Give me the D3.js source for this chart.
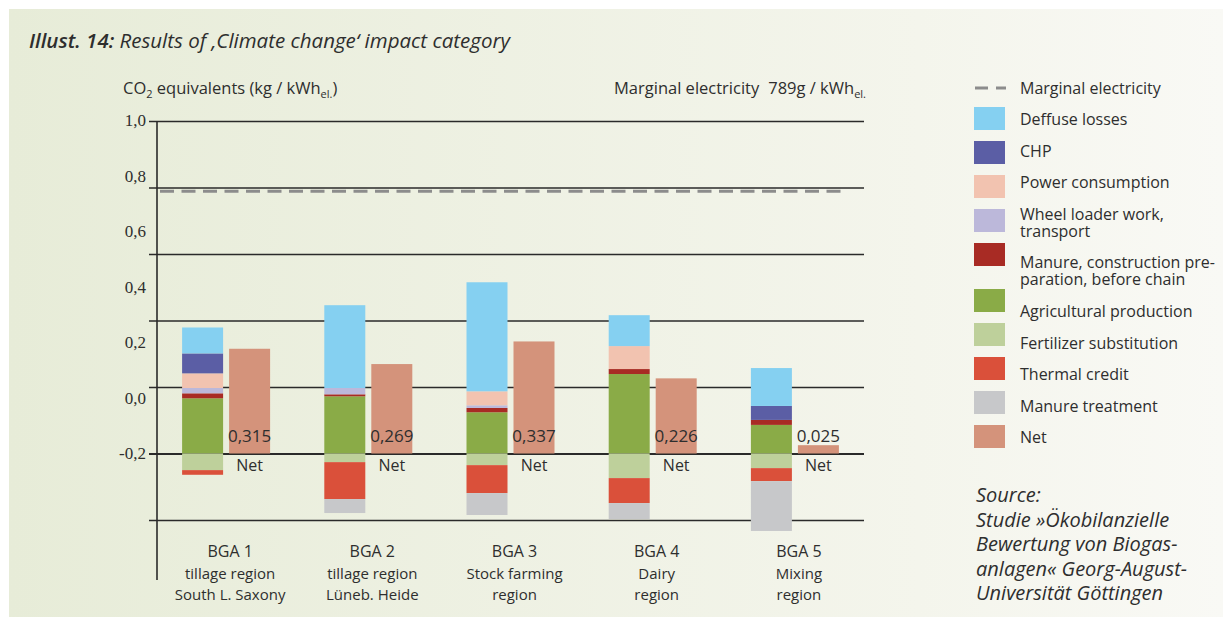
<!DOCTYPE html>
<html>
<head>
<meta charset="utf-8">
<script src="https://cdn.jsdelivr.net/npm/d3@7"></script>
<style>
  body { margin: 0; background: #fff; }
  svg { display: block; }
  text { font-family: "Open Sans", "Noto Sans", sans-serif; fill: #2e2e2e; }
</style>
</head>
<body>
<div id="chart"></div>
<script>
// Data
const categories = ["BGA 1", "BGA 2", "BGA 3", "BGA 4", "BGA 5"];
const subLabels = [
  ["tillage region", "South L. Saxony"],
  ["tillage region", "Lüneb. Heide"],
  ["Stock farming", "region"],
  ["Dairy", "region"],
  ["Mixing", "region"]
];
const agricultural = [0.166, 0.172, 0.124, 0.239, 0.086];
const manureConstruction = [0.015, 0.006, 0.013, 0.015, 0.015];
const wheelLoader = [0.016, 0.019, 0.008, 0, 0];
const powerConsumption = [0.044, 0, 0.042, 0.069, 0];
const chp = [0.060, 0, 0, 0, 0.042];
const diffuseLosses = [0.078, 0.249, 0.328, 0.093, 0.114];
const fertilizerSubstitution = [-0.050, -0.026, -0.035, -0.074, -0.044];
const thermalCredit = [-0.014, -0.111, -0.084, -0.075, -0.039];
const manureTreatment = [0, -0.042, -0.066, -0.048, -0.150];
const net = [0.315, 0.269, 0.337, 0.226, 0.025];
const netLabels = ["0,315", "0,269", "0,337", "0,226", "0,025"];
const marginalElectricity = 0.789;
const yTicks = [1.0, 0.8, 0.6, 0.4, 0.2, 0.0, -0.2];
const yTickLabels = ["1,0", "0,8", "0,6", "0,4", "0,2", "0,0", "-0,2"];

const series = [
  { key: "agri", name: "Agricultural production", color: "#8aab47", values: agricultural },
  { key: "manc", name: "Manure, construction pre-|paration, before chain", color: "#a82b24", values: manureConstruction },
  { key: "wheel", name: "Wheel loader work,|transport", color: "#bcb8da", values: wheelLoader },
  { key: "power", name: "Power consumption", color: "#f2c3b0", values: powerConsumption },
  { key: "chp", name: "CHP", color: "#5b5ea5", values: chp },
  { key: "diff", name: "Deffuse losses", color: "#85d0f1", values: diffuseLosses },
  { key: "fert", name: "Fertilizer substitution", color: "#bed09b", values: fertilizerSubstitution },
  { key: "therm", name: "Thermal credit", color: "#da503a", values: thermalCredit },
  { key: "mtreat", name: "Manure treatment", color: "#c7c8ca", values: manureTreatment }
];
const netColor = "#d4937b";

const legendOrder = ["diff", "chp", "power", "wheel", "manc", "agri", "fert", "therm", "mtreat"];

const table = categories.map((c, i) => {
  const row = { cat: c };
  series.forEach(s => { row[s.key] = s.values[i]; });
  return row;
});

const W = 1223, H = 617;
const svg = d3.select("#chart").append("svg")
  .attr("width", W).attr("height", H);

// background panel
const grad = svg.append("defs").append("linearGradient")
  .attr("id", "bg").attr("x1", "0").attr("x2", "1").attr("y1", "0").attr("y2", "0");
grad.append("stop").attr("offset", "0").attr("stop-color", "#e7ecd8");
grad.append("stop").attr("offset", "0.75").attr("stop-color", "#f4f5ec");
grad.append("stop").attr("offset", "1").attr("stop-color", "#f9f9f5");
svg.append("rect").attr("x", 9).attr("y", 9).attr("width", W - 9).attr("height", H - 9)
  .attr("fill", "url(#bg)");

// title
const title = svg.append("text").attr("x", 29).attr("y", 48)
  .style("font-size", "20.5px").style("font-style", "italic");
title.append("tspan").style("font-weight", "600").text("Illust. 14:");
title.append("tspan").text(" Results of ‚Climate change‘ impact category");

// scales
const y = d3.scaleLinear().domain([-0.2, 1.0]).range([520, 121]);
const yLabel = d3.scaleLinear().domain([-0.2, 1.0]).range([453.5, 120.5]);
const x = d3.scaleBand().domain(categories).range([155, 866]);

// units
const unit = svg.append("text").attr("x", 123).attr("y", 94).style("font-size", "16.5px");
unit.append("tspan").text("CO");
unit.append("tspan").attr("dy", 4).style("font-size", "11px").text("2");
unit.append("tspan").attr("dy", -4).text(" equivalents (kg / kWh");
unit.append("tspan").attr("dy", 4).style("font-size", "11px").text("el.");
unit.append("tspan").attr("dy", -4).text(")");

const marg = svg.append("text").attr("x", 614).attr("y", 94).style("font-size", "16.5px");
marg.append("tspan").text("Marginal electricity");
marg.append("tspan").attr("dx", 9).text("789g / kWh");
marg.append("tspan").attr("dy", 4).style("font-size", "11px").text("el.");

// gridlines
svg.append("g")
  .attr("transform", "translate(864,0)")
  .call(d3.axisLeft(y).tickValues(yTicks).tickSize(864 - 149).tickFormat(""))
  .call(g => g.select(".domain").remove())
  .call(g => g.selectAll(".tick line").attr("stroke", "#2a2a2a")
    .attr("stroke-width", d => d === 0 ? 2.2 : 1.5));

// axis line
svg.append("line").attr("x1", 157).attr("x2", 157)
  .attr("y1", y(1.0)).attr("y2", 580)
  .attr("stroke", "#2a2a2a").attr("stroke-width", 1.6);

// tick labels
svg.append("g")
  .attr("transform", "translate(146,0)")
  .call(d3.axisLeft(yLabel).tickValues(yTicks).tickSize(0).tickPadding(0)
    .tickFormat((d, i) => yTickLabels[i]))
  .call(g => g.select(".domain").remove())
  .call(g => g.selectAll("text")
    .style("font-family", "'Liberation Serif', 'DejaVu Serif', serif")
    .style("font-size", "17px").attr("fill", "#2e2e2e"));

// marginal electricity line
svg.append("line")
  .attr("x1", 160).attr("x2", 848)
  .attr("y1", y(marginalElectricity)).attr("y2", y(marginalElectricity))
  .attr("stroke", "#8c8c8c").attr("stroke-width", 3)
  .attr("stroke-dasharray", "14,7.5");

// stacked bars
const stacked = d3.stack()
  .keys(series.map(s => s.key))
  .offset(d3.stackOffsetDiverging)(table);

const barW = 41;
stacked.forEach((layer, li) => {
  svg.append("g").attr("fill", series[li].color)
    .selectAll("rect").data(layer).join("rect")
    .attr("x", d => x(d.data.cat) + x.bandwidth() / 2 - 44)
    .attr("y", d => y(Math.max(d[0], d[1])))
    .attr("width", barW)
    .attr("height", d => Math.abs(y(d[0]) - y(d[1])));
});

// net bars
svg.append("g").attr("fill", netColor)
  .selectAll("rect").data(net).join("rect")
  .attr("x", (d, i) => x(categories[i]) + x.bandwidth() / 2 + 3)
  .attr("y", d => y(d))
  .attr("width", barW)
  .attr("height", d => y(0) - y(d));

// net labels
svg.append("g").selectAll("text").data(netLabels).join("text")
  .attr("x", (d, i) => x(categories[i]) + x.bandwidth() / 2 + 3 + barW / 2)
  .attr("y", y(0) - 12)
  .attr("text-anchor", "middle")
  .style("font-size", "17px")
  .text(d => d);
svg.append("g").selectAll("text").data(categories).join("text")
  .attr("x", (d, i) => x(d) + x.bandwidth() / 2 + 3 + barW / 2)
  .attr("y", y(0) + 17)
  .attr("text-anchor", "middle")
  .style("font-size", "16px")
  .text("Net");

// category labels
const cat = svg.append("g").selectAll("g").data(categories).join("g")
  .attr("transform", d => `translate(${x(d) + x.bandwidth() / 2 + 4},0)`);
cat.append("text").attr("y", 557).attr("text-anchor", "middle")
  .style("font-size", "16px").style("font-weight", "500").text(d => d);
cat.append("text").attr("y", 579).attr("text-anchor", "middle")
  .style("font-size", "15px").text((d, i) => subLabels[i][0]);
cat.append("text").attr("y", 600).attr("text-anchor", "middle")
  .style("font-size", "15px").text((d, i) => subLabels[i][1]);

// legend
const legend = svg.append("g");
legend.append("line").attr("x1", 975).attr("x2", 1006).attr("y1", 88).attr("y2", 88)
  .attr("stroke", "#8c8c8c").attr("stroke-width", 3).attr("stroke-dasharray", "13,8");
legend.append("text").attr("x", 1020).attr("y", 94).style("font-size", "16px")
  .text("Marginal electricity");

const legItems = legendOrder.map(k => series.find(s => s.key === k))
  .concat([{ name: "Net", color: netColor }]);
let extra = 0;
legItems.forEach((s, i) => {
  const top = 107 + i * 34 + (i >= 5 ? 12 : 0);
  legend.append("rect").attr("x", 974).attr("y", top)
    .attr("width", 31).attr("height", 23).attr("fill", s.color);
  const lines = s.name.split("|");
  const cy = 119 + i * 31.6 + extra;
  const t = legend.append("text").attr("x", 1020).attr("y", cy + 6)
    .style("font-size", "16px");
  lines.forEach((l, j) => {
    t.append("tspan").attr("x", 1020).attr("dy", j === 0 ? 0 : 17)
      .text(l);
  });
  extra += (lines.length - 1) * 17;
});

// source
const src = ["Source:", "Studie »Ökobilanzielle", "Bewertung von Biogas-",
  "anlagen« Georg-August-", "Universität Göttingen"];
svg.append("g").selectAll("text").data(src).join("text")
  .attr("x", 976).attr("y", (d, i) => 502 + i * 24.5)
  .style("font-size", "20px").style("font-style", "italic")
  .text(d => d);
</script>
</body>
</html>
